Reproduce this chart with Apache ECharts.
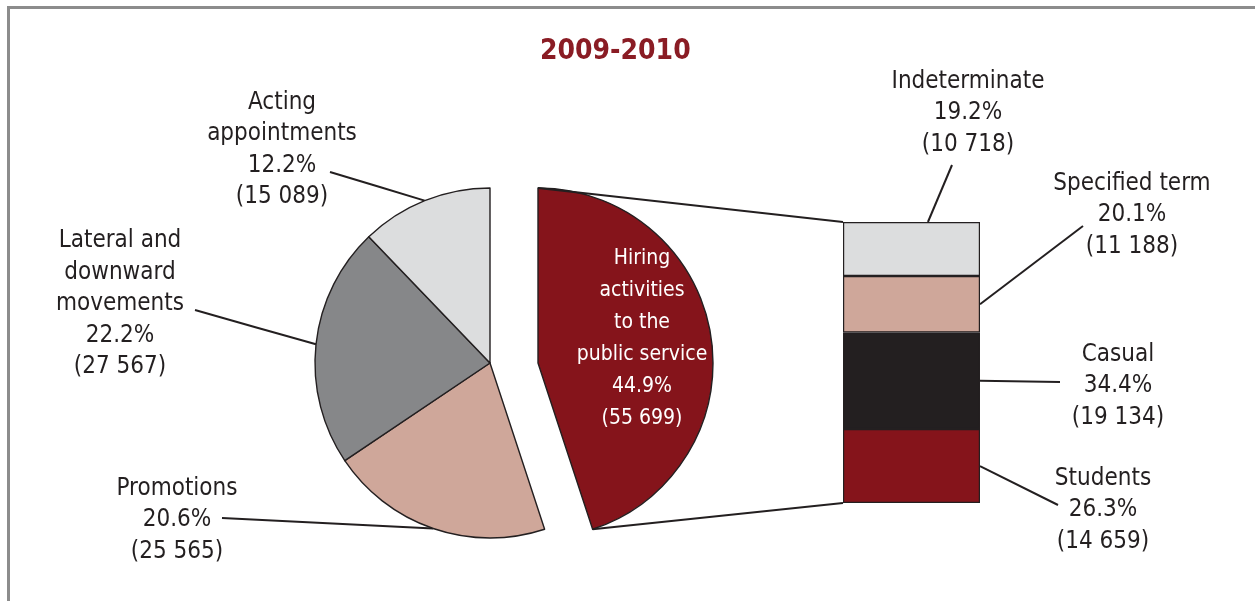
<!DOCTYPE html>
<html><head><meta charset="utf-8">
<script src="https://cdn.jsdelivr.net/npm/echarts@6/dist/echarts.min.js"></script>
<style>html,body{margin:0;padding:0;background:#fff}#c{width:1255px;height:601px}</style>
</head><body><div id="c"></div>
<script>
// ---- data ----
const chartTitle = '2009-2010';
const pieNames = ['Hiring\nactivities\nto the\npublic service', 'Promotions', 'Lateral and\ndownward\nmovements', 'Acting\nappointments'];
const pieValues = [55699, 25565, 27567, 15089];
const piePercents = ['44.9%', '20.6%', '22.2%', '12.2%'];
const barNames = ['Students', 'Casual', 'Specified term', 'Indeterminate'];
const barValues = [14659, 19134, 11188, 10718];
const barPercents = ['26.3%', '34.4%', '20.1%', '19.2%'];

// ---- layout / style ----
const PIE_C = [490, 363], R = 175, EXPLODE = 48;
const GRID = {left: 843, top: 222, width: 137, height: 281};
const pieColors = ['#85141b', '#cfa79a', '#868789', '#dcddde'];
const barColors = ['#85141b', '#231f20', '#cfa79a', '#dcddde'];
const pieLabelPos = [[642, 339], [177, 520], [120, 304], [282, 150]];
const pieLineEnd = [null, [222, 518], [195, 310], [330, 172]];
const barLabelPos = [[1103, 510], [1118, 386], [1132, 215], [968, 113]];
const barLineEnd = [[1058, 505], [1060, 382], [1083, 226], [952, 165]];
const INK = '#231f20';
const FONT = '"DejaVu Sans Condensed", "Liberation Sans Narrow", sans-serif';

const fmt = n => String(n).replace(/\B(?=(\d{3})+(?!\d))/g, ' ');
const txt = (name, pct, v) => name + '\n' + pct + '\n(' + fmt(v) + ')';
const hidden = {color: 'rgba(0,0,0,0)', borderWidth: 0};

const chart = echarts.init(document.getElementById('c'), null, {renderer: 'canvas'});

const mainPieData = pieValues.map((v, i) => i === 0
  ? {name: pieNames[i], value: v, itemStyle: hidden, label: {show: false}, labelLine: {show: false}}
  : {name: pieNames[i], value: v, itemStyle: {color: pieColors[i]}});
const explPieData = pieValues.map((v, i) => i === 0
  ? {name: pieNames[i], value: v, itemStyle: {color: pieColors[i]}}
  : {name: pieNames[i], value: v, itemStyle: hidden, label: {show: false}, labelLine: {show: false}});

const labelText = {fontFamily: FONT, fontSize: 24, lineHeight: 31.5, color: INK, align: 'center'};

const series = [
  {
    type: 'pie', center: PIE_C, radius: R, startAngle: 90, clockwise: true,
    avoidLabelOverlap: false, silent: true, animation: false,
    itemStyle: {borderColor: INK, borderWidth: 1.4},
    label: Object.assign({show: true, position: 'outside',
      formatter: p => txt(p.name, piePercents[p.dataIndex], p.value)}, labelText),
    labelLine: {show: true, length: 10, length2: 10, lineStyle: {color: INK, width: 2}},
    labelLayout: function (p) {
      const i = p.dataIndex, end = pieLineEnd[i];
      if (!end) return {};
      const start = p.labelLinePoints ? p.labelLinePoints[0] : end;
      return {x: pieLabelPos[i][0], y: pieLabelPos[i][1], align: 'center', verticalAlign: 'middle',
        labelLinePoints: [start, [(start[0] + end[0]) / 2, (start[1] + end[1]) / 2], end]};
    },
    data: mainPieData
  },
  {
    type: 'pie', center: [PIE_C[0] + EXPLODE, PIE_C[1]], radius: R, startAngle: 90, clockwise: true,
    avoidLabelOverlap: false, silent: true, animation: false,
    itemStyle: {borderColor: INK, borderWidth: 1.4},
    label: {show: true, position: 'inside', fontFamily: FONT, fontSize: 21, lineHeight: 32,
      color: '#ffffff', align: 'center',
      formatter: p => txt(p.name, piePercents[p.dataIndex], p.value)},
    labelLine: {show: false},
    labelLayout: function (p) {
      if (p.dataIndex !== 0) return {};
      return {x: pieLabelPos[0][0], y: pieLabelPos[0][1], align: 'center', verticalAlign: 'middle'};
    },
    data: explPieData
  }
];

barNames.forEach((n, i) => {
  series.push({
    type: 'bar', name: n, stack: 'hire', barWidth: '100%', silent: true, animation: false,
    xAxisIndex: 0, yAxisIndex: 0,
    itemStyle: {color: barColors[i], borderColor: INK, borderWidth: 1.2},
    label: Object.assign({show: true, position: 'inside',
      formatter: p => txt(n, barPercents[i], p.value)}, labelText),
    labelLayout: () => ({x: barLabelPos[i][0], y: barLabelPos[i][1], align: 'center', verticalAlign: 'middle'}),
    data: [barValues[i]]
  });
});

const total = barValues.reduce((a, b) => a + b, 0);

chart.setOption({
  animation: false,
  title: {text: chartTitle, left: 535, top: 33,
    textStyle: {fontFamily: FONT, fontSize: 28, fontWeight: 'bold', color: '#8a1c24'}},
  grid: GRID,
  xAxis: {type: 'category', data: ['Hiring'], show: false},
  yAxis: {type: 'value', min: 0, max: total, show: false},
  series: series
});

// connector & leader lines computed through the library's scales
const yPx = v => chart.convertToPixel({xAxisIndex: 0, yAxisIndex: 0}, [0, v])[1];
const barL = GRID.left, barR = GRID.left + GRID.width;
const hireShare = pieValues[0] / pieValues.reduce((a, b) => a + b, 0);
const endAng = (90 - 360 * hireShare) * Math.PI / 180;
const ex = PIE_C[0] + EXPLODE;
const sliceTop = [ex, PIE_C[1] - R];
const sliceEnd = [ex + R * Math.cos(endAng), PIE_C[1] - R * Math.sin(endAng)];
const lineStyle = {stroke: INK, lineWidth: 2, fill: null};
const graphics = [
  {type: 'polyline', shape: {points: [[8.5, 601], [8.5, 7.5], [1255, 7.5]]}, style: {stroke: '#8c8c8c', lineWidth: 3, fill: null}, silent: true},
  {type: 'polyline', shape: {points: [sliceTop, [barL, yPx(total)]]}, style: lineStyle, silent: true, z: 10},
  {type: 'polyline', shape: {points: [sliceEnd, [barL, yPx(0)]]}, style: lineStyle, silent: true, z: 10}
];
let cum = 0;
barValues.forEach((v, i) => {
  const y0 = yPx(cum), y1 = yPx(cum + v);
  cum += v;
  const start = i === barValues.length - 1
    ? [barL + (barR - barL) * 0.62, y1]
    : [barR, (y0 + y1) / 2];
  graphics.push({type: 'polyline', shape: {points: [start, barLineEnd[i]]}, style: lineStyle, silent: true, z: 10});
});
chart.setOption({graphic: graphics});
</script></body></html>
